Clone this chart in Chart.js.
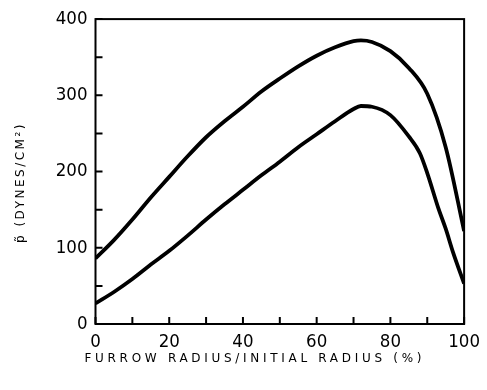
<!DOCTYPE html>
<html>
<head>
<meta charset="utf-8">
<script src="https://cdn.jsdelivr.net/npm/chart.js@4.4.1/dist/chart.umd.min.js"></script>
<style>
  html, body { margin: 0; padding: 0; background: #fff; }
  #wrap { width: 487px; height: 390px; position: relative; }
</style>
</head>
<body>
<div id="wrap"><canvas id="c"></canvas></div>
<script>
// Data
const xValuesUpper = [0, 5, 10, 15, 20, 25, 30, 35, 40, 45, 50, 55, 60, 65, 70, 72, 75, 80, 85, 90, 95, 100];
const upperCurve   = [86, 110, 137, 166, 193, 220, 245, 266, 285, 305, 322, 338, 352, 363, 371, 372, 370, 358, 336, 302, 232, 122];
const xValuesLower = [0, 5, 10, 15, 20, 25, 30, 35, 40, 45, 50, 55, 60, 65, 70, 72, 75, 80, 85, 88, 90, 93, 95, 97, 100];
const lowerCurve   = [27, 42, 59, 78, 96, 116, 137, 157, 176, 195, 213, 232, 249, 266, 282, 286, 285, 274, 246, 224, 198, 152, 125, 94, 53];
const xTickLabels = [0, 20, 40, 60, 80, 100];
const yTickLabels = [0, 100, 200, 300, 400];
const xTitle = 'FURROW RADIUS/INITIAL RADIUS (%)';
const yTitle = 'p\u0303 (DYNES/CM\u00B2)';

const toPts = (xs, ys) => xs.map((x, i) => ({ x: x, y: ys[i] }));

const tickFont = { family: "'Liberation Sans Narrow', 'DejaVu Sans Condensed', 'Liberation Sans', sans-serif", size: 18.5 };
const titleFont = { family: "'DejaVu Sans', sans-serif", size: 12 };

const titleStyle = {
  x: { spacing: '3.7px', dx: -25, dy: 3 },
  y: { spacing: '2.5px', dx: 0, dy: 11 }
};

const framePlugin = {
  id: 'frameAndTicks',
  beforeDraw(chart) {
    ['x', 'y'].forEach(id => {
      const s = chart.scales[id];
      if (!s._wrappedTitle) {
        const orig = s.drawTitle.bind(s);
        s.drawTitle = function () {
          const ctx = chart.ctx;
          const st = titleStyle[id];
          ctx.save();
          ctx.letterSpacing = st.spacing;
          ctx.translate(st.dx, st.dy);
          orig();
          ctx.restore();
        };
        s._wrappedTitle = true;
      }
    });
  },
  afterDatasetsDraw(chart) {
    const { ctx, chartArea: a } = chart;
    const xs = chart.scales.x, ys = chart.scales.y;
    ctx.save();
    ctx.strokeStyle = '#000';
    ctx.lineWidth = 2;
    ctx.strokeRect(a.left, a.top, a.right - a.left, a.bottom - a.top);
    ctx.beginPath();
    xs.ticks.forEach(t => {
      const px = xs.getPixelForValue(t.value);
      ctx.moveTo(px, a.bottom);
      ctx.lineTo(px, a.bottom - 7);
    });
    ys.ticks.forEach(t => {
      const py = ys.getPixelForValue(t.value);
      ctx.moveTo(a.left, py);
      ctx.lineTo(a.left + 7, py);
    });
    ctx.stroke();
    ctx.restore();
  }
};

new Chart(document.getElementById('c'), {
  type: 'line',
  data: {
    datasets: [
      {
        label: 'upper',
        data: toPts(xValuesUpper, upperCurve),
        borderColor: '#000',
        borderWidth: 3.8,
        pointRadius: 0,
        cubicInterpolationMode: 'monotone',
        fill: false
      },
      {
        label: 'lower',
        data: toPts(xValuesLower, lowerCurve),
        borderColor: '#000',
        borderWidth: 3.8,
        pointRadius: 0,
        cubicInterpolationMode: 'monotone',
        fill: false
      }
    ]
  },
  options: {
    responsive: true,
    maintainAspectRatio: false,
    animation: false,
    devicePixelRatio: 1,
    layout: { padding: { left: 0, right: 15, top: 16, bottom: 0 } },
    plugins: { legend: { display: false }, tooltip: { enabled: false } },
    scales: {
      x: {
        type: 'linear',
        min: 0, max: 100,
        grid: { display: false, drawTicks: false, tickLength: 0 },
        border: { display: false },
        ticks: {
          stepSize: 10,
          autoSkip: false,
          maxRotation: 0,
          padding: 7,
          color: '#000',
          font: tickFont,
          callback: v => xTickLabels.includes(v) ? String(v) : ''
        },
        title: {
          display: true,
          text: xTitle,
          color: '#000',
          font: titleFont,
          padding: { top: 0, bottom: 27 }
        },
        afterFit: s => { s.height = 66; }
      },
      y: {
        type: 'linear',
        min: 0, max: 400,
        grid: { display: false, drawTicks: false, tickLength: 0 },
        border: { display: false },
        ticks: {
          stepSize: 50,
          autoSkip: false,
          padding: 8,
          color: '#000',
          font: tickFont,
          callback: v => yTickLabels.includes(v) ? String(v) : ''
        },
        title: {
          display: true,
          text: yTitle,
          color: '#000',
          font: titleFont,
          padding: { top: 14, bottom: 0 }
        },
        afterFit: s => { s.width = 95.5; }
      }
    }
  },
  plugins: [framePlugin]
});
</script>
</body>
</html>
